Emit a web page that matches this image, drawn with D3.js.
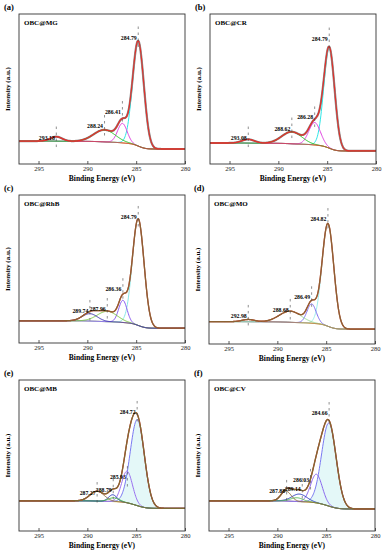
<!DOCTYPE html>
<html>
  <head>
    <script src="https://d3js.org/d3.v7.min.js"></script>
    <style>
      body { margin: 0; background: #fff; }
      text { font-family: "Liberation Serif", "DejaVu Serif", serif; }
    </style>
  </head>
  <body>
<script type="text/javascript">
// binding energy axis (reversed) and ticks
var energyDomain = [297, 280];
var energyTicks = [295, 290, 285, 280];

var panelLetters = ['(a)', '(b)', '(c)', '(d)', '(e)', '(f)'];
var panelNames = ['OBC@MG', 'OBC@CR', 'OBC@RhB', 'OBC@MO', 'OBC@MB', 'OBC@CV'];

// shirley background level: [high BE side, low BE side], intensity %
var backgrounds = [[15.3, 10], [14, 8.7], [15, 10], [15, 10], [20, 15], [20, 14.6]];

// fitted components: centre (eV), height above background, fwhm (eV)
var peaksA = [[284.79, 70, 1.35], [286.41, 13, 1.15], [288.24, 8, 2.6], [293.18, 3, 1.4]];
var peaksB = [[284.79, 67, 1.3], [286.28, 15, 1.4], [288.62, 8, 2.4], [293.08, 2.5, 1.5]];
var peaksC = [[284.79, 72, 1.4], [286.36, 15, 1.0], [287.96, 7, 2.4], [289.74, 5, 1.8]];
var peaksD = [[284.82, 69, 1.4], [286.49, 13, 1.1], [288.68, 7.5, 2.6], [292.98, 1.5, 1.5]];
var peaksE = [[284.88, 57, 1.7], [285.93, 21, 1.3], [287.4, 4.5, 1.0], [287.3, 2.5, 1.3], [289.0, 6.5, 1.7]];
var peaksF = [[284.72, 55, 1.75], [286.0, 19, 1.4], [287.75, 5, 1.8], [288.0, 2.5, 1.5], [289.1, 6.5, 1.2]];

// peak annotations: text, energy of the marker, intensity at text baseline
var labelsA = [['284.79', 284.79, 83], ['286.41', 286.41, 33.3], ['288.24', 288.24, 24], ['293.18', 293.18, 16.3]];
var labelsB = [['284.79', 284.79, 82.3], ['286.28', 286.28, 29.7], ['288.62', 288.62, 22.3], ['293.08', 293.08, 16.3]];
var labelsC = [['284.79', 284.79, 83.8], ['286.36', 286.36, 35], ['287.96', 287.96, 21.6], ['289.74', 289.74, 20.3]];
var labelsD = [['284.82', 284.82, 82.5], ['286.49', 286.49, 30], ['288.68', 288.68, 21.5], ['292.98', 292.98, 17.5]];
var labelsE = [['284.72', 284.9, 77.5], ['285.93', 285.9, 34.4], ['288.79', 287.35, 26], ['287.27', 289.0, 23.8]];
var labelsF = [['284.66', 284.7, 76.8], ['286.03', 286.6, 32.5], ['289.14', 287.45, 26.5], ['287.88', 289.05, 25.2]];

var allPeaks = [peaksA, peaksB, peaksC, peaksD, peaksE, peaksF];
var allLabels = [labelsA, labelsB, labelsC, labelsD, labelsE, labelsF];

// look
var compColors = [
  ['#2ee6e6', '#e040e0', '#22c422', '#d03a3a'],
  ['#2ee6e6', '#e040e0', '#22c422', '#d03a3a'],
  ['#8ae8e8', '#8c5cf0', '#7cc840', '#3b2fb0'],
  ['#9eeeee', '#7f6ff0', '#98dc98', '#b08050'],
  ['#7a7af2', '#9a70f0', '#2a3cc0', '#3cb43c', '#8a6a3a'],
  ['#7a7af2', '#8a66ee', '#2a3cc0', '#55bb55', '#8a6a3a']
];
var envColor = '#e2312c';
var rawColors = ['#8a8a8a', '#8a8a8a', '#7d6a34', '#7d6a34', '#7d6a34', '#7d6a34'];
var bgColor = '#e3b52e';

var boxes = [
  {x: 19, y: 14, w: 166, h: 150},
  {x: 210, y: 14, w: 166, h: 150},
  {x: 19, y: 195, w: 166, h: 148},
  {x: 209, y: 195, w: 166, h: 149},
  {x: 19, y: 380, w: 166, h: 151},
  {x: 209, y: 380, w: 166, h: 151}
];

var svg = d3.select('body').append('svg')
    .attr('width', 384)
    .attr('height', 550);

function gauss(e, p) {
  var d = (e - p[0]) / p[2];
  return p[1] * Math.exp(-4 * Math.LN2 * d * d);
}

var grid = d3.range(280, 297.001, 0.05);

function drawPanel(i) {
  var box = boxes[i];
  var peaks = allPeaks[i];
  var bg = backgrounds[i];
  var x = d3.scaleLinear().domain(energyDomain).range([box.x, box.x + box.w]);
  var y = d3.scaleLinear().domain([0, 100]).range([box.y + box.h, box.y]);

  // shirley type step background
  var sums = grid.map(function(e) { return d3.sum(peaks, function(p) { return gauss(e, p); }); });
  var cum = [], acc = 0;
  sums.forEach(function(s) { acc += s; cum.push(acc); });
  var base = cum.map(function(c) { return bg[1] + (bg[0] - bg[1]) * c / acc; });

  var g = svg.append('g');
  var clipId = 'clip' + i;
  g.append('clipPath').attr('id', clipId).append('rect')
      .attr('x', box.x).attr('y', box.y).attr('width', box.w).attr('height', box.h);
  var plot = g.append('g').attr('clip-path', 'url(#' + clipId + ')');

  var line = d3.line()
      .x(function(d) { return x(d[0]); })
      .y(function(d) { return y(d[1]); })
      .curve(d3.curveMonotoneX);

  // light fill under main component (e, f)
  if (i >= 4) {
    var area = d3.area()
        .x(function(d) { return x(d[0]); })
        .y0(function(d) { return y(d[2]); })
        .y1(function(d) { return y(d[1]); });
    plot.append('path')
        .datum(grid.map(function(e, k) { return [e, base[k] + gauss(e, peaks[0]), base[k]]; }))
        .attr('d', area)
        .attr('fill', '#e4f8f8');
  }

  var env = grid.map(function(e, k) { return [e, base[k] + sums[k]]; });

  if (i < 2) {
    plot.append('path').datum(env).attr('d', line)
        .attr('fill', 'none').attr('stroke', rawColors[i]).attr('stroke-width', 2.2);
  }

  plot.append('path')
      .datum(grid.map(function(e, k) { return [e, base[k]]; }))
      .attr('d', line)
      .attr('fill', 'none').attr('stroke', bgColor).attr('stroke-width', 1);

  peaks.forEach(function(p, j) {
    plot.append('path')
        .datum(grid.map(function(e, k) { return [e, base[k] + gauss(e, p)]; }))
        .attr('d', line)
        .attr('fill', 'none')
        .attr('stroke', compColors[i][j])
        .attr('stroke-width', 1);
  });

  plot.append('path').datum(env).attr('d', line)
      .attr('fill', 'none').attr('stroke', envColor).attr('stroke-width', 1.3);

  if (i >= 2) {
    plot.append('path').datum(env).attr('d', line)
        .attr('fill', 'none').attr('stroke', rawColors[i])
        .attr('stroke-width', 1.3)
        .attr('stroke-opacity', i >= 4 ? 1 : 0.85);
  }

  // frame
  g.append('rect')
      .attr('x', box.x).attr('y', box.y).attr('width', box.w).attr('height', box.h)
      .attr('fill', 'none').attr('stroke', '#333').attr('stroke-width', 0.9);

  // bottom axis, ticks inside
  var axis = d3.axisBottom(x).tickValues(energyTicks).tickSizeInner(-3).tickSizeOuter(0).tickPadding(2);
  var ax = g.append('g').attr('transform', 'translate(0,' + (box.y + box.h) + ')').call(axis);
  ax.select('.domain').remove();
  ax.selectAll('line').attr('stroke', '#333').attr('stroke-width', 0.8);
  ax.selectAll('text').attr('font-size', 6.5).attr('fill', '#222')
      .style('font-family', '"Liberation Serif", serif');

  g.append('text')
      .attr('x', box.x + box.w / 2).attr('y', box.y + box.h + 17)
      .attr('text-anchor', 'middle')
      .attr('font-size', 7.5).attr('font-weight', 'bold')
      .text('Binding Energy (eV)');

  g.append('text')
      .attr('transform', 'translate(' + (box.x - 9) + ',' + (box.y + box.h / 2) + ') rotate(-90)')
      .attr('text-anchor', 'middle')
      .attr('font-size', 7).attr('font-weight', 'bold')
      .text('Intensity (a.u.)');

  g.append('text')
      .attr('x', box.x - 15).attr('y', box.y - 4)
      .attr('font-size', 8.5).attr('font-weight', 'bold')
      .text(panelLetters[i]);

  g.append('text')
      .attr('x', box.x + 5).attr('y', box.y + 11)
      .attr('font-size', 7).attr('font-weight', 'bold')
      .text(panelNames[i]);

  // peak position markers and values
  allLabels[i].forEach(function(l) {
    var lx = x(l[1]), ly = y(l[2]);
    g.append('line')
        .attr('x1', lx).attr('x2', lx)
        .attr('y1', ly - 13).attr('y2', ly + 10)
        .attr('stroke', '#444').attr('stroke-width', 0.6)
        .attr('stroke-dasharray', '2.5,3.5');
    g.append('text')
        .attr('x', lx - 1.5).attr('y', ly)
        .attr('text-anchor', 'end')
        .attr('font-size', 5.8).attr('font-weight', 'bold')
        .text(l[0]);
  });
}

for (var i = 0; i < 6; i++) drawPanel(i);
</script>
  </body>
</html>
